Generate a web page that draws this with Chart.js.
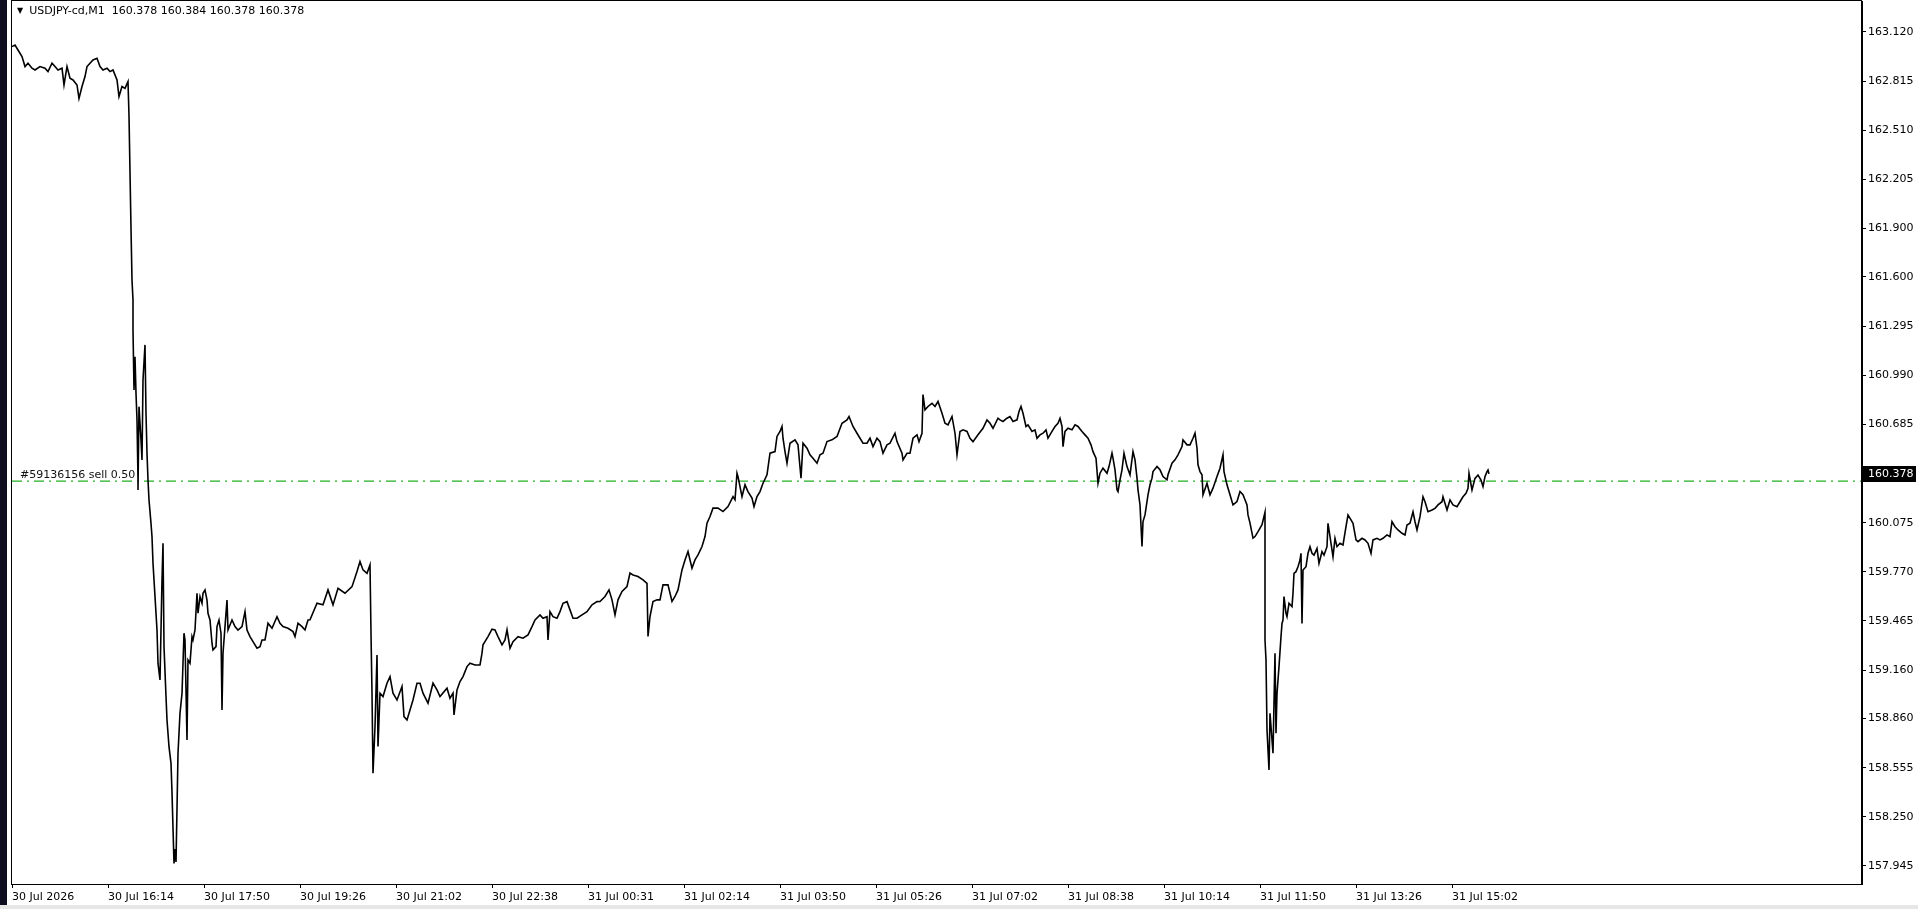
<!DOCTYPE html>
<html>
<head>
<meta charset="utf-8">
<title>USDJPY-cd,M1</title>
<script src="https://cdn.jsdelivr.net/npm/chart.js@4.4.1/dist/chart.umd.min.js"></script>
<style>
  html, body { margin: 0; padding: 0; background: #fff; overflow: hidden; }
  #wrap { position: relative; width: 1918px; height: 909px; }
  #c { position: absolute; left: 0; top: 0; }
  #edge { position: absolute; left: 0; top: 0; width: 7px; height: 909px; background: #0d0d20; }
  #foot { position: absolute; left: 0; bottom: 0; width: 1918px; height: 4px; background: #e6e6e6; }
  #head { position: absolute; left: 17px; top: 4px; font: 11px "DejaVu Sans"; line-height: 13px; color: #000; white-space: pre; }
  #head .tri { font-size: 8px; vertical-align: 1px; margin-right: 6px; }
</style>
</head>
<body>
<div id="wrap">
  <canvas id="c" width="1918" height="909"></canvas>
  <div id="edge"></div>
  <div id="foot"></div>
  <div id="head"><span class="tri">▼</span>USDJPY-cd,M1  160.378 160.384 160.378 160.378</div>
</div>
<script>
// bar index (M1 bars from the left edge) and close price
const barIdx = [
  0, 3, 6, 10, 13, 16, 20, 23, 28, 33, 36, 40, 43, 46, 50, 52, 55, 58, 61, 65, 67, 70, 73, 75, 78, 81, 85, 88, 91, 95, 98, 101, 105, 107, 110, 113, 116,
  117, 118, 119, 120, 121, 121, 122, 123, 124, 125, 126, 126, 127, 129, 130, 131, 133, 134, 135, 136, 137, 139, 140, 141, 143, 145, 146, 148, 150, 151, 152, 154, 155, 157, 159, 160, 162, 163, 164, 165, 166, 168, 170,
  171, 172, 173, 175, 176, 178, 180, 181, 183, 185, 186, 188, 190, 191, 193, 195, 196, 198, 200, 201, 204, 205, 207, 209, 210, 211, 213, 215, 216, 220, 223, 226, 230, 233, 235, 238, 241, 245, 248, 250, 253, 256, 260, 265, 268, 271, 276, 281, 283, 286, 290, 293, 296,
  298, 305, 311, 316, 321, 326, 333, 340, 345, 348, 351, 355, 358, 359, 360, 361, 363, 365, 366, 368, 371, 375, 378, 381, 385, 390, 392, 395, 398, 401, 405, 408, 411, 416, 421, 425, 428, 435, 438, 441, 442, 445, 448, 451, 455, 458, 463, 468, 470, 471, 476, 480, 483, 486, 490, 493, 495, 498, 501, 506, 511, 516, 520, 523, 528, 531, 535, 536, 538, 541, 545, 548, 551, 555, 558, 561, 565, 570, 575, 580, 585,
  588, 593, 597, 600, 603, 606, 610, 615, 618, 621, 626, 631, 635, 636, 638, 641, 645, 648, 651, 656, 660, 663, 666, 670, 673, 676, 680, 683, 686, 690, 693, 695, 698, 701, 706, 711, 716, 721, 723, 725, 726, 730, 733, 736, 740, 742, 745, 748, 751, 755, 758, 763, 765, 768, 770, 771, 773, 775, 778, 783, 786, 789, 791, 795, 798, 801, 805, 808, 811, 815, 820, 825, 830, 835, 837, 841, 845, 851, 855, 858, 861, 865, 868, 871, 875, 878, 883, 885, 890, 891, 895, 898, 901, 905, 907, 910, 911, 913, 916, 920, 923, 926, 930, 933, 936, 940, 943, 945, 948, 951, 955, 958, 961, 966, 971, 975, 978, 981, 986,
  988, 991, 995, 998, 1001, 1005, 1007, 1009, 1011, 1014, 1016, 1020, 1023, 1025, 1028, 1031, 1034, 1036, 1040, 1043, 1046, 1048, 1050, 1051, 1053, 1056, 1060, 1063, 1066, 1070, 1073, 1076, 1079, 1081, 1084, 1086, 1088, 1091, 1095, 1097, 1100, 1101, 1103, 1105, 1106, 1108, 1110, 1112, 1115, 1118, 1121, 1123, 1125, 1126, 1128, 1130, 1131, 1133, 1135, 1136, 1138, 1140, 1141, 1145, 1148, 1151, 1155, 1156, 1160, 1163, 1166, 1170, 1171, 1175, 1178, 1181, 1183, 1185, 1186, 1188, 1190, 1191, 1195, 1198, 1201, 1205, 1208, 1211, 1212, 1215, 1218, 1221, 1225, 1228, 1231, 1235, 1236, 1238, 1241, 1243, 1246, 1250, 1253,
  1253, 1254, 1255, 1257, 1258, 1260, 1261, 1263, 1264, 1265, 1267, 1269, 1270, 1271, 1272, 1274, 1275, 1277, 1280, 1281, 1282, 1284, 1286, 1288, 1289, 1290, 1291, 1294, 1296, 1298, 1300, 1302, 1305, 1307, 1310, 1312, 1315, 1316, 1318, 1321, 1323, 1325, 1328, 1331, 1334, 1336, 1339, 1341, 1344, 1346, 1350, 1353, 1356, 1359, 1361, 1365, 1368, 1371, 1375, 1378, 1380, 1383, 1386, 1390, 1393, 1395, 1398, 1401, 1403, 1405, 1408, 1411, 1413, 1416, 1420, 1423, 1426, 1430, 1431, 1435, 1438, 1441, 1445, 1448, 1451, 1454, 1456, 1457, 1460, 1463, 1466, 1469, 1471, 1473, 1475, 1476, 1477
];

const closes = [
  163.029, 163.039, 163.008, 162.967, 162.905, 162.926, 162.895, 162.884, 162.905, 162.895, 162.874, 162.926, 162.905, 162.884, 162.895, 162.791, 162.905, 162.833, 162.822, 162.791, 162.708, 162.781, 162.843, 162.905, 162.926, 162.946, 162.957, 162.905, 162.884, 162.895, 162.874, 162.884, 162.822, 162.719, 162.781, 162.770, 162.812,
  162.600, 162.250, 161.900, 161.580, 161.457, 161.271, 160.898, 161.105, 160.878, 160.712, 160.340, 160.278, 160.795, 160.588, 160.464, 160.961, 161.178, 160.754, 160.506, 160.340, 160.216, 160.071, 159.988, 159.823, 159.616, 159.409, 159.203, 159.099, 159.720, 159.947, 159.306, 158.996, 158.851, 158.685, 158.582, 158.400, 157.960, 158.050, 157.970, 158.300, 158.644, 158.892, 159.016,
  159.203, 159.389, 159.347, 158.727, 159.223, 159.203, 159.368, 159.347, 159.409, 159.637, 159.513, 159.616, 159.575, 159.637, 159.658, 159.595, 159.513, 159.471, 159.327, 159.285, 159.306, 159.430, 159.471, 159.389, 158.913, 159.265, 159.430, 159.595, 159.409, 159.471, 159.430, 159.409, 159.430, 159.523, 159.409, 159.368, 159.337, 159.296, 159.306, 159.347, 159.347, 159.451, 159.420, 159.492, 159.451, 159.430, 159.420, 159.399, 159.368, 159.451, 159.430, 159.409, 159.471,
  159.472, 159.575, 159.565, 159.658, 159.565, 159.668, 159.637, 159.678, 159.772, 159.834, 159.782, 159.761, 159.813, 159.389, 159.017, 158.520, 158.810, 159.254, 158.686, 159.017, 158.996, 159.079, 159.120, 159.017, 158.975, 159.058, 158.872, 158.851, 158.913, 158.975, 159.079, 159.079, 159.017, 158.955, 159.079, 159.037, 158.996, 159.048, 158.986, 159.017, 158.882, 159.037, 159.089, 159.120, 159.182, 159.203, 159.192, 159.192, 159.265, 159.317, 159.368, 159.414, 159.410, 159.368, 159.317, 159.348, 159.410, 159.296, 159.337, 159.368, 159.358, 159.379, 159.430, 159.472, 159.503, 159.482, 159.492, 159.348, 159.523, 159.492, 159.482, 159.523, 159.575, 159.585, 159.534, 159.482, 159.482, 159.503, 159.523, 159.565, 159.585,
  159.586, 159.617, 159.658, 159.596, 159.503, 159.596, 159.648, 159.679, 159.762, 159.751, 159.741, 159.720, 159.699, 159.369, 159.493, 159.586, 159.596, 159.596, 159.689, 159.689, 159.586, 159.617, 159.658, 159.782, 159.844, 159.896, 159.793, 159.844, 159.875, 159.927, 159.989, 160.072, 160.113, 160.165, 160.165, 160.144, 160.175, 160.237, 160.217, 160.382, 160.361, 160.237, 160.310, 160.268, 160.227, 160.175, 160.237, 160.268, 160.320, 160.372, 160.506, 160.516, 160.610, 160.641, 160.672, 160.599, 160.516, 160.444, 160.568, 160.589, 160.558, 160.351, 160.568, 160.537, 160.496, 160.475, 160.444, 160.496, 160.506, 160.578, 160.589, 160.610, 160.692, 160.713, 160.734, 160.672, 160.630, 160.568, 160.568, 160.599, 160.547, 160.599, 160.578, 160.506, 160.558, 160.568, 160.630, 160.578, 160.506, 160.465, 160.506, 160.506, 160.599, 160.620, 160.578, 160.630, 160.870, 160.775, 160.796, 160.816, 160.796, 160.827, 160.754, 160.692, 160.682, 160.734, 160.630, 160.496, 160.641, 160.651, 160.641, 160.599, 160.578, 160.620, 160.661, 160.713, 160.692, 160.661, 160.723,
  160.713, 160.703, 160.723, 160.734, 160.703, 160.713, 160.765, 160.796, 160.754, 160.672, 160.682, 160.641, 160.651, 160.599, 160.620, 160.630, 160.651, 160.599, 160.641, 160.672, 160.692, 160.723, 160.672, 160.547, 160.641, 160.661, 160.651, 160.682, 160.672, 160.641, 160.620, 160.599, 160.558, 160.516, 160.475, 160.320, 160.382, 160.413, 160.382, 160.423, 160.506, 160.475, 160.403, 160.279, 160.268, 160.341, 160.403, 160.506, 160.423, 160.372, 160.516, 160.465, 160.351, 160.279, 160.185, 159.927, 160.082, 160.123, 160.206, 160.248, 160.310, 160.351, 160.392, 160.423, 160.403, 160.361, 160.341, 160.372, 160.444, 160.465, 160.496, 160.547, 160.589, 160.558, 160.558, 160.599, 160.630, 160.537, 160.434, 160.392, 160.372, 160.248, 160.320, 160.248, 160.289, 160.361, 160.413, 160.496, 160.392, 160.310, 160.248, 160.185, 160.206, 160.268, 160.248, 160.185, 160.123, 160.072, 159.979, 159.989, 160.020, 160.062, 160.140,
  159.347, 159.223, 158.789, 158.540, 158.892, 158.727, 158.644, 159.264, 158.768, 159.016, 159.182, 159.368, 159.450, 159.471, 159.616, 159.513, 159.492, 159.575, 159.554, 159.637, 159.761, 159.771, 159.802, 159.843, 159.885, 159.450, 159.781, 159.802, 159.885, 159.926, 159.885, 159.874, 159.916, 159.823, 159.895, 159.874, 159.926, 160.071, 159.988, 159.864, 159.978, 159.926, 159.947, 159.937, 160.050, 160.123, 160.092, 160.071, 159.968, 159.957, 159.978, 159.968, 159.947, 159.885, 159.968, 159.978, 159.968, 159.978, 159.999, 159.988, 160.081, 160.050, 160.030, 160.009, 159.999, 160.061, 160.071, 160.143, 160.081, 160.030, 160.112, 160.236, 160.205, 160.143, 160.154, 160.164, 160.185, 160.205, 160.236, 160.154, 160.216, 160.185, 160.174, 160.205, 160.236, 160.257, 160.288, 160.381, 160.278, 160.350, 160.371, 160.340, 160.299, 160.361, 160.392, 160.402, 160.378
];

const timeTickBars = [0, 96, 192, 288, 384, 480, 576, 672, 768, 864, 960, 1056, 1152, 1248, 1344, 1440];
const timeTickLabels = [
  "30 Jul 2026", "30 Jul 16:14", "30 Jul 17:50", "30 Jul 19:26", "30 Jul 21:02", "30 Jul 22:38",
  "31 Jul 00:31", "31 Jul 02:14", "31 Jul 03:50", "31 Jul 05:26", "31 Jul 07:02", "31 Jul 08:38",
  "31 Jul 10:14", "31 Jul 11:50", "31 Jul 13:26", "31 Jul 15:02"
];
const priceTicks = [
  163.120, 162.815, 162.510, 162.205, 161.900, 161.600, 161.295, 160.990, 160.685,
  160.075, 159.770, 159.465, 159.160, 158.860, 158.555, 158.250, 157.945
];

const bidPrice = 160.378;
const orderPrice = 160.333;
const orderText = "#59136156 sell 0.50";

Chart.defaults.font.family = "DejaVu Sans";
Chart.defaults.font.size = 11;
Chart.defaults.color = "#000";

const mtOverlay = {
  id: "mtOverlay",
  afterDraw(chart) {
    const ctx = chart.ctx;
    const a = chart.chartArea;
    const y = chart.scales.y;
    ctx.save();
    // frame round the plot
    ctx.strokeStyle = "#000";
    ctx.lineWidth = 1;
    ctx.strokeRect(a.left - 0.5, a.top - 0.5, a.right - a.left, a.bottom - a.top + 1);

    // order label above its line
    const oy = y.getPixelForValue(orderPrice);
    ctx.font = "11px 'DejaVu Sans'";
    ctx.fillStyle = "#111";
    ctx.textAlign = "left";
    ctx.textBaseline = "alphabetic";
    ctx.fillText(orderText, a.left + 8, oy - 3);

    // current bid box on the price scale
    const by = Math.round(y.getPixelForValue(bidPrice));
    ctx.fillStyle = "#000";
    ctx.fillRect(a.right + 1, by - 8, 53, 16);
    ctx.fillStyle = "#fff";
    ctx.textBaseline = "middle";
    ctx.fillText(bidPrice.toFixed(3), a.right + 6, by);
    ctx.restore();
  }
};

new Chart(document.getElementById("c"), {
  type: "line",
  data: {
    datasets: [
      {
        label: "USDJPY-cd",
        data: barIdx.map((b, i) => ({ x: b, y: closes[i] })),
        borderColor: "#000",
        borderWidth: 1.6,
        pointRadius: 0,
        tension: 0
      },
      {
        label: "order",
        data: [{ x: 0, y: orderPrice }, { x: 1850, y: orderPrice }],
        borderColor: "#22b022",
        borderWidth: 1.3,
        borderDash: [10, 5, 2, 5],
        pointRadius: 0
      }
    ]
  },
  options: {
    responsive: false,
    devicePixelRatio: 1,
    animation: false,
    events: [],
    layout: { padding: { left: 12, top: 1, right: 0, bottom: 0 } },
    plugins: { legend: { display: false }, tooltip: { enabled: false } },
    scales: {
      x: {
        type: "linear",
        min: 0,
        max: 1850,
        afterFit: s => { s.height = 25; s.paddingLeft = 0; s.paddingRight = 0; },
        afterBuildTicks: s => { s.ticks = timeTickBars.map(v => ({ value: v })); },
        grid: { drawOnChartArea: false, drawTicks: true, tickLength: 4, color: "#000" },
        border: { display: true, color: "#000" },
        ticks: {
          autoSkip: false,
          maxRotation: 0,
          align: "start",
          padding: 3,
          callback: (v, i) => timeTickLabels[i]
        }
      },
      y: {
        position: "right",
        min: 157.833,
        max: 163.312,
        afterFit: s => { s.width = 56; s.paddingTop = 0; s.paddingBottom = 0; },
        afterBuildTicks: s => { s.ticks = priceTicks.map(v => ({ value: v })); },
        grid: { drawOnChartArea: false, drawTicks: true, tickLength: 4, color: "#000" },
        border: { display: true, color: "#000" },
        ticks: {
          autoSkip: false,
          padding: 2,
          callback: v => v.toFixed(3)
        }
      }
    }
  },
  plugins: [mtOverlay]
});
</script>
</body>
</html>
